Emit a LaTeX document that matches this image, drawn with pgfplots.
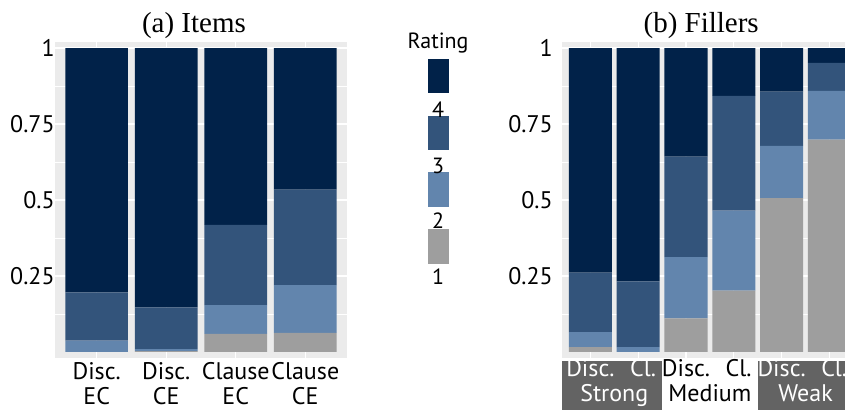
\documentclass[border=0pt]{standalone}
\usepackage{fontspec}
\setmainfont{PT Sans}
\newfontfamily\seriffont{Liberation Serif}
\usepackage{pgfplots}
\pgfplotsset{compat=1.18}
\definecolor{cA}{HTML}{9E9E9E}
\definecolor{cB}{HTML}{6285AD}
\definecolor{cC}{HTML}{33547B}
\definecolor{cD}{HTML}{012249}
\definecolor{panel}{HTML}{EBEBEB}
\definecolor{stripc}{HTML}{636363}
\pgfplotsset{
 myax/.style={
  scale only axis, height=158pt, ymin=-0.02, ymax=1.02, xmin=0.4,
  ybar stacked, bar width=0.9,
  axis background/.style={fill=panel},
  axis line style={draw=none},
  major tick length=0pt, minor tick length=0pt,
  ytick={0.25,0.5,0.75,1}, yticklabels={0.25,0.5,0.75,1},
  minor ytick={0.125,0.375,0.625,0.875},
  ymajorgrids, yminorgrids, xmajorgrids,
  major grid style={white, line width=0.6pt},
  minor grid style={white, line width=0.3pt},
  xticklabels={},
  clip=false,
  title style={font=\seriffont\fontsize{14.5}{16}\selectfont, at={(0.5,1)}, anchor=base, yshift=-1.5pt},
 }
}
\newcommand{\tl}{\fontsize{12}{14}\selectfont}
\newcommand{\lgf}{\fontsize{11}{13}\selectfont}
\begin{document}
\begin{tikzpicture}
\begin{axis}[myax, width=146pt, xmax=4.6, xtick={1,2,3,4},
  yticklabel style={font=\tl, inner sep=0pt, xshift=0pt},
  title={(a) Items}, title style={xshift=-3.5pt}]
\addplot[fill=cA, draw=none] coordinates {(1,0) (2,0.003) (3,0.059) (4,0.0625)};
\addplot[fill=cB, draw=none] coordinates {(1,0.037) (2,0.006) (3,0.095) (4,0.1575)};
\addplot[fill=cC, draw=none] coordinates {(1,0.159) (2,0.138) (3,0.264) (4,0.314)};
\addplot[fill=cD, draw=none] coordinates {(1,0.804) (2,0.853) (3,0.582) (4,0.466)};
\node[font=\tl, anchor=base] at ([yshift=-11pt]axis cs:1,-0.02) {Disc.};
\node[font=\tl, anchor=base] at ([yshift=-23.5pt]axis cs:1,-0.02) {EC};
\node[font=\tl, anchor=base] at ([yshift=-11pt]axis cs:2,-0.02) {Disc.};
\node[font=\tl, anchor=base] at ([yshift=-23.5pt]axis cs:2,-0.02) {CE};
\node[font=\tl, anchor=base] at ([yshift=-11pt]axis cs:3,-0.02) {Clause};
\node[font=\tl, anchor=base] at ([yshift=-23.5pt]axis cs:3,-0.02) {EC};
\node[font=\tl, anchor=base] at ([yshift=-11pt]axis cs:4,-0.02) {Clause};
\node[font=\tl, anchor=base] at ([yshift=-23.5pt]axis cs:4,-0.02) {CE};
\end{axis}
\begin{axis}[myax, at={(253.35pt,0)}, anchor=south west, width=148.2pt, xmax=6.6, xtick={1,2,3,4,5,6},
  yticklabel style={font=\tl, inner sep=0pt, xshift=-4.3pt},
  title={(b) Fillers}, title style={xshift=-4.35pt}]
\addplot[fill=cA, draw=none] coordinates {(1,0.016) (2,0) (3,0.11) (4,0.202) (5,0.506) (6,0.699)};
\addplot[fill=cB, draw=none] coordinates {(1,0.049) (2,0.016) (3,0.202) (4,0.263) (5,0.172) (6,0.16)};
\addplot[fill=cC, draw=none] coordinates {(1,0.196) (2,0.216) (3,0.331) (4,0.378) (5,0.179) (6,0.092)};
\addplot[fill=cD, draw=none] coordinates {(1,0.739) (2,0.768) (3,0.357) (4,0.157) (5,0.143) (6,0.049)};
\coordinate (a0) at (axis cs:0.4,-0.02);
\coordinate (a1) at (axis cs:1,-0.02);
\coordinate (a15) at (axis cs:1.5,-0.02);
\coordinate (a21) at (axis cs:2.1,-0.02);
\coordinate (a25) at (axis cs:2.5,-0.02);
\coordinate (a3) at (axis cs:3,-0.02);
\coordinate (a35) at (axis cs:3.5,-0.02);
\coordinate (a41) at (axis cs:4.1,-0.02);
\coordinate (a45) at (axis cs:4.5,-0.02);
\coordinate (a5) at (axis cs:5,-0.02);
\coordinate (a55) at (axis cs:5.5,-0.02);
\coordinate (a61) at (axis cs:6.1,-0.02);
\coordinate (a66) at (axis cs:6.6,-0.02);
\end{axis}
\fill[stripc] ([yshift=-1.5pt]a0) rectangle ([yshift=-30pt]a25);
\fill[stripc] ([yshift=-1.5pt]a45) rectangle ([yshift=-30pt]a66);
\node[font=\tl, anchor=base, white] at ([yshift=-9.35pt]a1) {Disc.};
\node[font=\tl, anchor=base, white] at ([yshift=-9.35pt]a21) {Cl.};
\node[font=\tl, anchor=base, white] at ([yshift=-21.85pt]a15) {Strong};
\node[font=\tl, anchor=base] at ([yshift=-9.35pt]a3) {Disc.};
\node[font=\tl, anchor=base] at ([yshift=-9.35pt]a41) {Cl.};
\node[font=\tl, anchor=base] at ([yshift=-21.85pt]a35) {Medium};
\node[font=\tl, anchor=base, white] at ([yshift=-9.35pt]a5) {Disc.};
\node[font=\tl, anchor=base, white] at ([yshift=-9.35pt]a61) {Cl.};
\node[font=\tl, anchor=base, white] at ([yshift=-21.85pt]a55) {Weak};
% legend
\node[font=\lgf, anchor=base] at (191.5pt,154.5pt) {Rating};
\fill[cD] (186.5pt,132.5pt) rectangle (197pt,149.5pt);
\fill[cC] (186.5pt,104pt) rectangle (197pt,121pt);
\fill[cB] (186.5pt,75.5pt) rectangle (197pt,93pt);
\fill[cA] (186.5pt,47pt) rectangle (197pt,64.5pt);
\node[font=\lgf] at (191.5pt,124pt) {4};
\node[font=\lgf] at (191.5pt,96pt) {3};
\node[font=\lgf] at (191.5pt,68.5pt) {2};
\node[font=\lgf] at (191.5pt,40.5pt) {1};
\pgfresetboundingbox
\useasboundingbox (-27.5pt,-26pt) rectangle (395pt,179pt);
\end{tikzpicture}
\end{document}
